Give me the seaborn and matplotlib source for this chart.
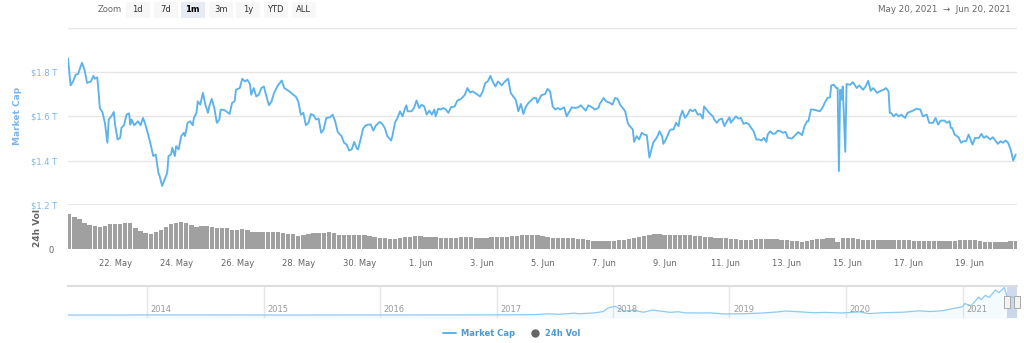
import numpy as np
import pandas as pd
import matplotlib
matplotlib.use("Agg")
import matplotlib.pyplot as plt
import matplotlib.dates as mdates
from matplotlib.lines import Line2D
from matplotlib.patches import Rectangle
from matplotlib.path import Path
import seaborn as sns

sns.set_style("white")
plt.rcParams["font.family"] = ["DejaVu Sans"]

# ---------------- data ----------------
START = pd.Timestamp("2021-05-20 00:00")
END = pd.Timestamp("2021-06-20 12:00")

# market cap (trillion USD), hours since 2021-05-20 00:00
mc_hours = [11, 13, 15, 17, 19, 20, 22, 24, 26, 29, 31, 32, 34, 35, 36, 38, 40, 42, 43, 45, 47, 48, 50, 52, 53, 55, 57, 59, 60, 61, 63, 66, 68, 70, 72, 74, 76, 78, 80, 82, 83, 85, 87, 89, 90, 92, 93, 95, 96, 98, 100, 102, 103, 105, 107, 109, 110, 112, 113, 115, 117, 119, 121, 122, 124, 126, 128, 130, 131, 134, 137, 138, 140, 142, 143, 146, 148, 150, 152, 154, 155, 157, 159, 161, 163, 165, 167, 169, 171, 173, 176, 179, 181, 185, 188, 190, 192, 194, 196, 198, 200, 202, 204, 206, 208, 210, 212, 214, 217, 219, 221, 223, 226, 228, 230, 232, 234, 236, 238, 239, 241, 243, 245, 247, 249, 251, 253, 256, 258, 260, 262, 265, 266, 268, 270, 272, 274, 276, 277, 278, 281, 283, 285, 287, 289, 291, 293, 295, 297, 299, 300, 302, 304, 306, 308, 310, 312, 315, 317, 320, 323, 325, 327, 329, 332, 335, 337, 339, 341, 343, 345, 347, 349, 352, 354, 357, 359, 361, 363, 365, 367, 369, 371, 373, 377, 379, 380, 383, 386, 388, 390, 392, 394, 396, 398, 401, 403, 405, 407, 410, 412, 414, 416, 418, 420, 423, 425, 428, 429, 432, 434, 437, 439, 441, 443, 445, 447, 449, 451, 452, 455, 456, 458, 460, 462, 464, 466, 467, 468, 470, 471, 474, 476, 478, 479, 481, 484, 485, 487, 489, 491, 492, 494, 496, 498, 500, 502, 504, 506, 508, 510, 511, 513, 515, 518, 519, 521, 523, 525, 527, 529, 531, 532, 534, 536, 538, 540, 542, 544, 546, 548, 550, 552, 554, 556, 558, 560, 561, 563, 565, 567, 569, 571, 573, 575, 577, 580, 582, 585, 587, 588, 590, 592, 593, 595, 597, 599, 602, 604, 606, 608, 610, 611, 613, 615, 616, 617, 618, 619, 620, 622, 623, 626, 628, 631, 633, 636, 638, 640, 642, 644, 647, 649, 652, 654, 656, 657, 658, 660, 662, 664, 666, 669, 671, 674, 677, 678, 681, 683, 686, 688, 691, 693, 695, 697, 700, 702, 704, 705, 706, 708, 711, 713, 715, 717, 719, 722, 724, 727, 729, 731, 733, 736, 738, 742, 744, 746, 748, 750, 752, 754, 756]
mc_values = [1.863, 1.740, 1.758, 1.788, 1.792, 1.810, 1.842, 1.810, 1.751, 1.758, 1.783, 1.770, 1.776, 1.713, 1.638, 1.620, 1.571, 1.481, 1.586, 1.600, 1.620, 1.563, 1.496, 1.503, 1.548, 1.560, 1.608, 1.614, 1.563, 1.586, 1.560, 1.578, 1.560, 1.593, 1.560, 1.518, 1.473, 1.421, 1.428, 1.346, 1.331, 1.286, 1.316, 1.346, 1.421, 1.428, 1.458, 1.421, 1.466, 1.451, 1.511, 1.526, 1.511, 1.571, 1.578, 1.560, 1.593, 1.616, 1.668, 1.653, 1.706, 1.653, 1.616, 1.645, 1.679, 1.638, 1.571, 1.586, 1.631, 1.628, 1.616, 1.611, 1.661, 1.668, 1.720, 1.728, 1.770, 1.758, 1.765, 1.746, 1.698, 1.728, 1.690, 1.698, 1.728, 1.735, 1.690, 1.650, 1.668, 1.706, 1.740, 1.762, 1.728, 1.713, 1.698, 1.690, 1.668, 1.608, 1.616, 1.560, 1.571, 1.611, 1.605, 1.586, 1.590, 1.526, 1.541, 1.593, 1.596, 1.608, 1.578, 1.530, 1.511, 1.481, 1.473, 1.446, 1.451, 1.485, 1.455, 1.451, 1.496, 1.545, 1.559, 1.563, 1.563, 1.536, 1.559, 1.575, 1.566, 1.548, 1.511, 1.491, 1.511, 1.571, 1.593, 1.623, 1.600, 1.638, 1.650, 1.623, 1.623, 1.638, 1.672, 1.638, 1.653, 1.645, 1.608, 1.626, 1.608, 1.631, 1.600, 1.635, 1.631, 1.638, 1.631, 1.616, 1.641, 1.645, 1.671, 1.679, 1.698, 1.728, 1.708, 1.713, 1.702, 1.690, 1.713, 1.751, 1.758, 1.783, 1.755, 1.735, 1.758, 1.740, 1.755, 1.770, 1.706, 1.690, 1.675, 1.623, 1.656, 1.611, 1.645, 1.661, 1.683, 1.683, 1.661, 1.695, 1.701, 1.724, 1.713, 1.645, 1.631, 1.638, 1.631, 1.641, 1.600, 1.620, 1.641, 1.638, 1.641, 1.650, 1.638, 1.626, 1.650, 1.641, 1.631, 1.638, 1.656, 1.683, 1.668, 1.661, 1.653, 1.683, 1.680, 1.653, 1.638, 1.623, 1.571, 1.560, 1.541, 1.485, 1.511, 1.496, 1.526, 1.518, 1.515, 1.466, 1.414, 1.458, 1.481, 1.506, 1.533, 1.511, 1.476, 1.496, 1.536, 1.541, 1.541, 1.571, 1.556, 1.593, 1.626, 1.593, 1.608, 1.631, 1.623, 1.631, 1.608, 1.611, 1.590, 1.645, 1.631, 1.616, 1.600, 1.586, 1.571, 1.586, 1.590, 1.556, 1.578, 1.596, 1.571, 1.586, 1.600, 1.590, 1.593, 1.566, 1.571, 1.566, 1.548, 1.533, 1.496, 1.496, 1.491, 1.503, 1.485, 1.518, 1.533, 1.521, 1.523, 1.536, 1.533, 1.526, 1.530, 1.503, 1.500, 1.511, 1.529, 1.521, 1.515, 1.556, 1.578, 1.578, 1.631, 1.631, 1.628, 1.623, 1.638, 1.663, 1.683, 1.686, 1.740, 1.743, 1.728, 1.728, 1.353, 1.720, 1.675, 1.735, 1.440, 1.746, 1.743, 1.755, 1.728, 1.740, 1.720, 1.735, 1.761, 1.716, 1.728, 1.706, 1.713, 1.720, 1.728, 1.713, 1.616, 1.616, 1.600, 1.611, 1.600, 1.608, 1.593, 1.616, 1.623, 1.631, 1.635, 1.631, 1.600, 1.608, 1.571, 1.571, 1.593, 1.563, 1.581, 1.581, 1.571, 1.578, 1.548, 1.548, 1.518, 1.506, 1.481, 1.488, 1.488, 1.518, 1.473, 1.503, 1.503, 1.521, 1.503, 1.511, 1.496, 1.506, 1.476, 1.488, 1.481, 1.491, 1.481, 1.451, 1.401, 1.428]

# 24h volume (billion USD), every 4 hours from 2021-05-20 12:00
vol_first = pd.Timestamp("2021-05-20 12:00")
vol_values = [395, 361, 342, 300, 275, 258, 250, 258, 290, 290, 282, 295, 300, 240, 207, 188, 174, 190, 220, 255,
              282, 293, 303, 296, 278, 248, 260, 262, 256, 243, 240, 236, 220, 222, 226, 215, 200, 199, 199, 198,
              195, 190, 180, 172, 168, 153, 158, 175, 187, 187, 188, 198, 180, 167, 162, 158, 158, 158, 164, 155,
              138, 130, 122, 116, 113, 125, 134, 142, 147, 150, 142, 135, 134, 133, 132, 131, 133, 136, 138, 137,
              131, 128, 133, 138, 141, 140, 136, 145, 155, 158, 158, 158, 157, 147, 135, 130, 128, 126, 124, 123,
              121, 120, 100, 94, 94, 94, 95, 99, 102, 106, 116, 126, 138, 150, 160, 170, 170, 163, 161, 161,
              161, 161, 159, 155, 150, 142, 134, 130, 127, 124, 121, 117, 108, 106, 110, 114, 116, 115, 114, 113,
              107, 100, 96, 91, 86, 95, 106, 114, 120, 126, 131, 88, 122, 124, 124, 113, 105, 105, 105, 105,
              105, 105, 105, 105, 103, 101, 99, 98, 97, 97, 97, 97, 97, 97, 98, 100, 102, 104, 104, 95,
              88, 82, 82, 82, 84, 90, 94]

# navigator: whole-history market cap (trillion USD)
nav_dates = ["2013-04-28", "2013-08-01", "2013-11-01", "2013-12-04", "2014-02-01", "2014-06-01", "2014-10-01",
             "2015-01-15", "2015-06-01", "2015-11-05", "2016-03-01", "2016-06-18", "2016-10-01", "2017-01-05",
             "2017-03-01", "2017-05-01", "2017-06-12", "2017-07-16", "2017-09-01", "2017-09-15", "2017-11-01",
             "2017-12-01", "2017-12-17", "2018-01-07", "2018-02-06", "2018-03-05", "2018-04-06", "2018-05-05",
             "2018-06-29", "2018-07-25", "2018-08-14", "2018-09-20", "2018-11-01", "2018-12-15", "2019-02-01",
             "2019-04-05", "2019-05-30", "2019-06-26", "2019-08-06", "2019-09-25", "2019-10-27", "2019-12-17",
             "2020-02-13", "2020-03-13", "2020-05-01", "2020-06-30", "2020-08-15", "2020-09-24", "2020-10-31",
             "2020-11-25", "2020-12-31", "2021-01-08", "2021-01-27", "2021-02-21", "2021-02-28", "2021-03-13",
             "2021-03-25", "2021-04-14", "2021-04-25", "2021-05-12", "2021-05-23", "2021-06-03", "2021-06-20"]
nav_values = [0.0015, 0.0012, 0.0025, 0.013, 0.010, 0.008, 0.006, 0.003, 0.0035, 0.005, 0.007, 0.011, 0.0105,
              0.017, 0.022, 0.045, 0.11, 0.07, 0.17, 0.12, 0.19, 0.32, 0.65, 0.80, 0.35, 0.45, 0.26, 0.45, 0.25,
              0.30, 0.20, 0.19, 0.20, 0.10, 0.11, 0.17, 0.28, 0.37, 0.30, 0.21, 0.24, 0.19, 0.29, 0.13, 0.22,
              0.26, 0.38, 0.32, 0.40, 0.55, 0.75, 1.05, 0.85, 1.65, 1.40, 1.80, 1.60, 2.30, 2.05, 2.52, 1.40,
              1.70, 1.45]

cap_ticks = [1.2, 1.4, 1.6, 1.8, 2.0]
cap_labels = ["\\$1.2 T", "\\$1.4 T", "\\$1.6 T", "\\$1.8 T", ""]
date_ticks = ["2021-05-22", "2021-05-24", "2021-05-26", "2021-05-28", "2021-05-30", "2021-06-01", "2021-06-03",
              "2021-06-05", "2021-06-07", "2021-06-09", "2021-06-11", "2021-06-13", "2021-06-15", "2021-06-17",
              "2021-06-19"]
year_ticks = ["2014", "2015", "2016", "2017", "2018", "2019", "2020", "2021"]
zoom_buttons = ["1d", "7d", "1m", "3m", "1y", "YTD", "ALL"]
selected_button = "1m"

# ---------------- style ----------------
LINE = "#5cb3ea"
GRID = "#e6e6e6"
W, H = 1024, 343

fig = plt.figure(figsize=(W / 100, H / 100), dpi=100)
fig.patch.set_facecolor("white")


def fx(px):
    return px / W


def fy(py):
    return 1 - py / H


ax = fig.add_axes([fx(68), fy(205), fx(949), 177.2 / H])
axv = fig.add_axes([fx(68), fy(249.3), fx(949), 44.3 / H], sharex=ax)
axn = fig.add_axes([fx(68), fy(318), fx(949), 32.3 / H])

# main market cap line
df = pd.DataFrame({"time": START + pd.to_timedelta(mc_hours, unit="h"), "cap": mc_values})
sns.lineplot(data=df, x="time", y="cap", ax=ax, color=LINE, lw=1.35)
ax.set_ylim(1.2, 2.0)
ax.set_xlim(START + pd.Timedelta(hours=11), START + pd.Timedelta(hours=757))
ax.set_yticks(cap_ticks)
ax.set_yticklabels(cap_labels)
ax.grid(axis="y", color=GRID, lw=1)
ax.grid(axis="x", visible=False)
ax.tick_params(axis="y", length=0, labelcolor="#7cb5ec", labelsize=6, pad=7.5)
ax.tick_params(axis="x", bottom=False, labelbottom=False)
ax.set_xlabel("")
ax.set_ylabel("")
for s in ax.spines.values():
    s.set_visible(False)
ax.axhline(1.2, color=GRID, lw=2, zorder=0)

# volume bars
vol_times = pd.date_range(vol_first, periods=len(vol_values), freq="4h")
axv.bar(vol_times, vol_values, width=3.4 / 24, color="#a0a0a0", edgecolor="none", align="center")
axv.set_ylim(0, 500)
axv.set_yticks([0])
axv.set_yticklabels(["0"])
axv.tick_params(axis="y", length=0, labelcolor="#666666", labelsize=6, pad=10)
dt = pd.to_datetime(date_ticks)
axv.set_xticks(dt)
axv.set_xticklabels([f"{d.day}. {d.strftime('%b')}" for d in dt])
axv.tick_params(axis="x", length=4, width=1, color="#ccd6eb", labelsize=6, labelcolor="#666666", pad=3)
for s in axv.spines.values():
    s.set_visible(False)
axv.grid(False)

# navigator
ndf = pd.DataFrame({"date": pd.to_datetime(nav_dates), "cap": nav_values})
axn.set_xlim(pd.Timestamp("2013-04-28"), END)
axn.set_ylim(-0.27, 2.68)
for y in year_ticks:
    d = pd.Timestamp(f"{y}-01-01")
    axn.axvline(d, color=GRID, lw=1, zorder=0)
    axn.annotate(y, (d, 0.25), xycoords=("data", "axes fraction"), xytext=(2.5, 0),
                 textcoords="offset points", ha="left", va="center", fontsize=6, color="#999999")
axn.fill_between(ndf["date"], ndf["cap"], -0.27, color=LINE, alpha=0.06, lw=0)
sns.lineplot(data=ndf, x="date", y="cap", ax=axn, color="#8ccaf2", lw=0.9)
axn.axvspan(START, END, color=(102 / 255, 133 / 255, 194 / 255), alpha=0.3, lw=0)
rect = Path([(-0.5, -1), (0.5, -1), (0.5, 1), (-0.5, 1), (-0.5, -1)],
            [Path.MOVETO, Path.LINETO, Path.LINETO, Path.LINETO, Path.CLOSEPOLY])
axn.plot([START, END], [0.5, 0.5], transform=axn.get_xaxis_transform(), ls="none",
         marker=rect, ms=8, mfc="#f2f2f2", mec="#aaaaaa", mew=0.7, clip_on=False)
axn.set_xticks([])
axn.set_yticks([])
axn.set_xlabel("")
axn.set_ylabel("")
for k, s in axn.spines.items():
    s.set_visible(k == "top")
axn.spines["top"].set_color("#dddddd")
axn.spines["top"].set_linewidth(1.5)

# axis titles
fig.text(fx(17), fy(116), "Market Cap", rotation=90, ha="center", va="center",
         color="#7cb5ec", fontsize=6.5, fontweight="bold")
fig.text(fx(37), fy(228), "24h Vol", rotation=90, ha="center", va="center",
         color="#666666", fontsize=6.5, fontweight="bold")

# range selector
fig.text(fx(110), fy(10), "Zoom", ha="center", va="center", color="#666666", fontsize=6)
bx = [126, 154, 181, 209, 236, 264, 292]
for x0, lab in zip(bx, zoom_buttons):
    sel = lab == selected_button
    fig.patches.append(Rectangle((fx(x0), fy(18)), fx(23.5), 16 / H, transform=fig.transFigure,
                                 facecolor="#e6ebf5" if sel else "#f7f7f7", edgecolor="none"))
    fig.text(fx(x0 + 11.75), fy(10), lab, ha="center", va="center",
             color="#000000" if sel else "#333333", fontsize=6,
             fontweight="bold" if sel else "normal")
fig.text(fx(1011), fy(10), "May 20, 2021  \u2192  Jun 20, 2021", ha="right", va="center",
         color="#666666", fontsize=6.3)

# legend
handles = [Line2D([0], [0], color=LINE, lw=1.4),
           Line2D([0], [0], marker="o", color="#666666", ls="none", ms=5)]
fig.legend(handles, ["Market Cap", "24h Vol"], loc="center", bbox_to_anchor=(0.5, 1 - 333 / H),
           ncol=2, frameon=False, fontsize=6, labelcolor="#4a9ad6", handlelength=1.6,
           columnspacing=1.6, handletextpad=0.5, prop={"weight": "bold", "size": 6})

fig.savefig("out.png", dpi=100, facecolor="white")
